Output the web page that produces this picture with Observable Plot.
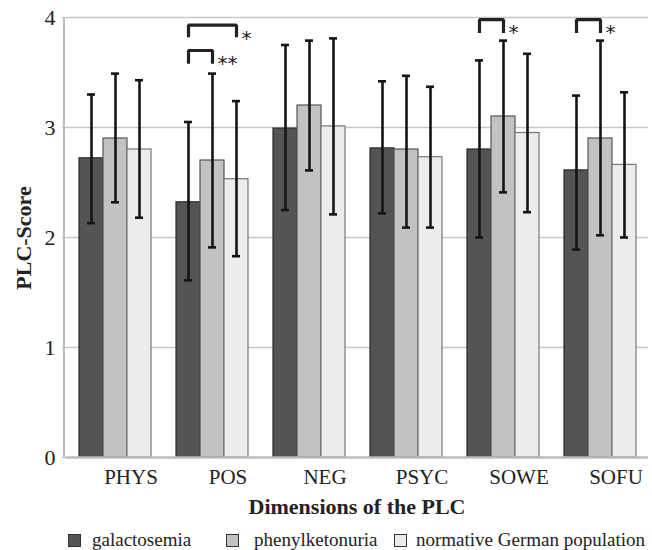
<!DOCTYPE html>
<html><head><meta charset="utf-8">
<script src="https://cdn.jsdelivr.net/npm/d3@7"></script>
<script src="https://cdn.jsdelivr.net/npm/@observablehq/plot@0.6"></script>
<style>
body{margin:0;background:#fff;font-family:"Liberation Serif",serif;}
#legend{position:relative;width:652px;height:26px;}
.sw{position:absolute;top:10px;width:11px;height:11px;border:1px solid #333;}
.lb{position:absolute;top:5px;font-size:19px;color:#222;line-height:22px;white-space:nowrap;font-family:"Liberation Serif",serif;}
</style></head><body><div id="chart"></div><div id="legend"></div>
<script>
const categories = ["PHYS","POS","NEG","PSYC","SOWE","SOFU"];
const series = ["galactosemia","phenylketonuria","normative German population"];
const seriesFill = ["#545453","#c1c2c1","#ececec"];
const seriesStroke = ["#2a2a2a","#555555","#777777"];

const galactosemiaMean  = [2.72,2.32,2.99,2.81,2.80,2.61];
const galactosemiaLower = [2.13,1.61,2.25,2.22,2.00,1.89];
const galactosemiaUpper = [3.30,3.05,3.75,3.42,3.61,3.29];

const phenylketonuriaMean  = [2.90,2.70,3.20,2.80,3.10,2.90];
const phenylketonuriaLower = [2.32,1.91,2.61,2.09,2.41,2.02];
const phenylketonuriaUpper = [3.49,3.49,3.79,3.47,3.79,3.79];

const normativeMean  = [2.80,2.53,3.01,2.73,2.95,2.66];
const normativeLower = [2.18,1.83,2.21,2.09,2.23,2.00];
const normativeUpper = [3.43,3.24,3.81,3.37,3.67,3.32];

const yTicks = [0,1,2,3,4];

// significance brackets
const sigCategory = ["POS","POS","SOWE","SOFU"];
const sigFrom = ["galactosemia","galactosemia","galactosemia","galactosemia"];
const sigTo = ["normative German population","phenylketonuria","phenylketonuria","phenylketonuria"];
const sigLabel = ["*","**","*","*"];
const sigTop = [3.93,3.70,3.98,3.98];
const sigLegEnd = [3.82,3.58,3.86,3.86];

const seriesData = [
  [galactosemiaMean, galactosemiaLower, galactosemiaUpper],
  [phenylketonuriaMean, phenylketonuriaLower, phenylketonuriaUpper],
  [normativeMean, normativeLower, normativeUpper]
];
const rows = [];
series.forEach((s, si) => {
  categories.forEach((c, ci) => {
    rows.push({category: c, series: s, mean: seriesData[si][0][ci], lower: seriesData[si][1][ci], upper: seriesData[si][2][ci]});
  });
});
const bracketPts = [];
const sigRows = [];
sigCategory.forEach((c, j) => {
  bracketPts.push({id: j, category: c, series: sigFrom[j], y: sigLegEnd[j]});
  bracketPts.push({id: j, category: c, series: sigFrom[j], y: sigTop[j]});
  bracketPts.push({id: j, category: c, series: sigTo[j], y: sigTop[j]});
  bracketPts.push({id: j, category: c, series: sigTo[j], y: sigLegEnd[j]});
  sigRows.push({category: c, series: sigTo[j], y: sigTop[j], label: sigLabel[j]});
});

const W = 652, H = 524;
const barMarks = series.map((s, si) => Plot.barY(rows.filter(d => d.series === s), {
  fx: "category", x: "series", y: "mean", fill: seriesFill[si], stroke: seriesStroke[si], strokeWidth: 1.2
}));

const chart = Plot.plot({
  width: W, height: H,
  marginTop: 17, marginBottom: 67, marginLeft: 64, marginRight: 2,
  style: {fontFamily: "Liberation Serif", background: "#fff"},
  fx: {domain: categories, paddingInner: 0, paddingOuter: 0, axis: null, label: null},
  x: {domain: series, paddingInner: 0, paddingOuter: 0.5, axis: null, label: null},
  y: {domain: [0, 4], axis: null, label: null},
  marks: [
    Plot.ruleY(yTicks.filter(t => t > 0), {stroke: "#c6c6c6", strokeWidth: 1.5}),
    ...barMarks,
    Plot.ruleY([0], {stroke: "#bdbdbd", strokeWidth: 2.5}),
    Plot.ruleX(rows, {fx: "category", x: "series", y1: "lower", y2: "upper", stroke: "#151515", strokeWidth: 2.6}),
    Plot.tickY(rows, {fx: "category", x: "series", y: "lower", stroke: "#151515", strokeWidth: 2.6, insetLeft: 8, insetRight: 8}),
    Plot.tickY(rows, {fx: "category", x: "series", y: "upper", stroke: "#151515", strokeWidth: 2.6, insetLeft: 8, insetRight: 8}),
    Plot.line(bracketPts, {fx: "category", x: "series", y: "y", z: "id", stroke: "#222", strokeWidth: 3.2, strokeLinejoin: "miter", strokeLinecap: "butt"}),
    Plot.text(sigRows, {fx: "category", x: "series", y: "y", text: "label", dx: 5, dy: 13, textAnchor: "start", fontSize: 20, fontFamily: "DejaVu Sans", fill: "#222"}),
    Plot.axisY({ticks: yTicks, tickSize: 4, tickPadding: 7, stroke: "#bbbbbb", fill: "#222", fontSize: 22, label: null, tickFormat: d => String(d)}),
    Plot.axisFx({anchor: "bottom", tickSize: 0, tickPadding: 12, dx: 16, fontSize: 21, fill: "#222", label: null})
  ]
});
document.getElementById("chart").appendChild(chart);

// axis line and titles
const svg = d3.select(chart);
const ys = chart.scale("y");
svg.append("line").attr("x1", 64).attr("x2", 64).attr("y1", ys.apply(4)).attr("y2", ys.apply(0))
  .attr("stroke", "#bbbbbb").attr("stroke-width", 2);
svg.append("text").attr("x", 357).attr("y", 514).attr("text-anchor", "middle")
  .attr("font-family", "Liberation Serif").attr("font-weight", "bold").attr("font-size", 22).attr("fill", "#222")
  .text("Dimensions of the PLC");
svg.append("text").attr("transform", "translate(31,238) rotate(-90)").attr("text-anchor", "middle")
  .attr("font-family", "Liberation Serif").attr("font-weight", "bold").attr("font-size", 22).attr("fill", "#222")
  .text("PLC-Score");

// legend
const legendPos = [[68, 92], [226, 254], [394, 416]];
const lg = document.getElementById("legend");
series.forEach((s, i) => {
  const sw = document.createElement("div");
  sw.className = "sw"; sw.style.left = legendPos[i][0] + "px"; sw.style.background = seriesFill[i];
  lg.appendChild(sw);
  const lb = document.createElement("div");
  lb.className = "lb"; lb.style.left = legendPos[i][1] + "px"; lb.textContent = s;
  lg.appendChild(lb);
});
</script></body></html>
